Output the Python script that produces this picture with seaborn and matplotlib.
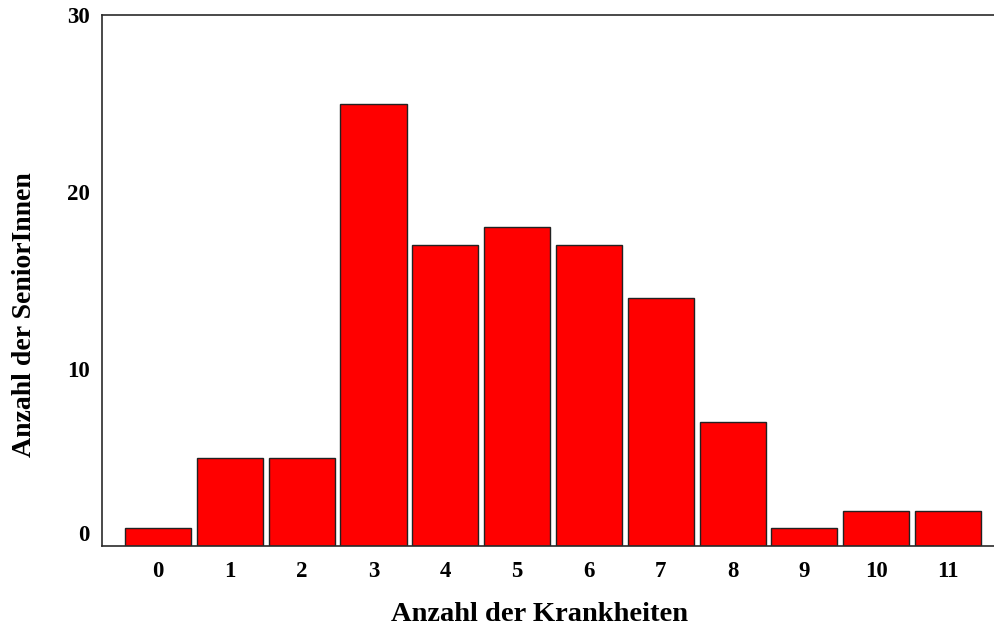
import matplotlib
matplotlib.use("Agg")
import matplotlib.pyplot as plt
import seaborn as sns
import pandas as pd

# Number of illnesses per senior and how many seniors have that count
krankheiten = ["0", "1", "2", "3", "4", "5", "6", "7", "8", "9", "10", "11"]
anzahl = [1, 5, 5, 25, 17, 18, 17, 14, 7, 1, 2, 2]
y_ticks = [0, 10, 20, 30]

sns.set_theme(style="white")
plt.rcParams["font.family"] = ["Liberation Serif", "DejaVu Serif"]
plt.rcParams["font.weight"] = "bold"
plt.rcParams["text.color"] = "black"
plt.rcParams["axes.labelcolor"] = "black"
plt.rcParams["xtick.color"] = "black"
plt.rcParams["ytick.color"] = "black"

df = pd.DataFrame({"Krankheiten": krankheiten, "Anzahl": anzahl})

fig = plt.figure(figsize=(9.94, 6.30), dpi=100)
ax = fig.add_axes([102 / 994, 1 - 546 / 630, (994 - 102) / 994, (546 - 15) / 630])

sns.barplot(data=df, x="Krankheiten", y="Anzahl", color="#ff0000",
            saturation=1, width=0.92, edgecolor="#222222", linewidth=1.0, ax=ax)

ax.set_xlim(-0.78, 11.64)
ax.set_ylim(0, 30)
ax.set_yticks(y_ticks)
ax.set_yticklabels([str(t) for t in y_ticks])
ax.tick_params(axis="both", length=0, labelsize=16.5, labelcolor="black")
ax.tick_params(axis="x", pad=11)
ax.tick_params(axis="y", pad=9)
for lbl in ax.get_xticklabels() + ax.get_yticklabels():
    lbl.set_fontweight("bold")
ax.get_yticklabels()[0].set_va("bottom")

for side in ["left", "top", "bottom"]:
    ax.spines[side].set_visible(True)
    ax.spines[side].set_color("#2a2a2a")
    ax.spines[side].set_linewidth(1.2)
ax.spines["right"].set_visible(False)

ax.set_xlabel("Anzahl der Krankheiten", fontsize=20.5, fontweight="bold",
              labelpad=14, color="black")
ax.set_ylabel("Anzahl der SeniorInnen", fontsize=20, fontweight="bold",
              labelpad=21, color="black")
ax.xaxis.label.set_x(0.491)
ax.yaxis.label.set_y(0.435)

fig.savefig("out.png", dpi=100)
